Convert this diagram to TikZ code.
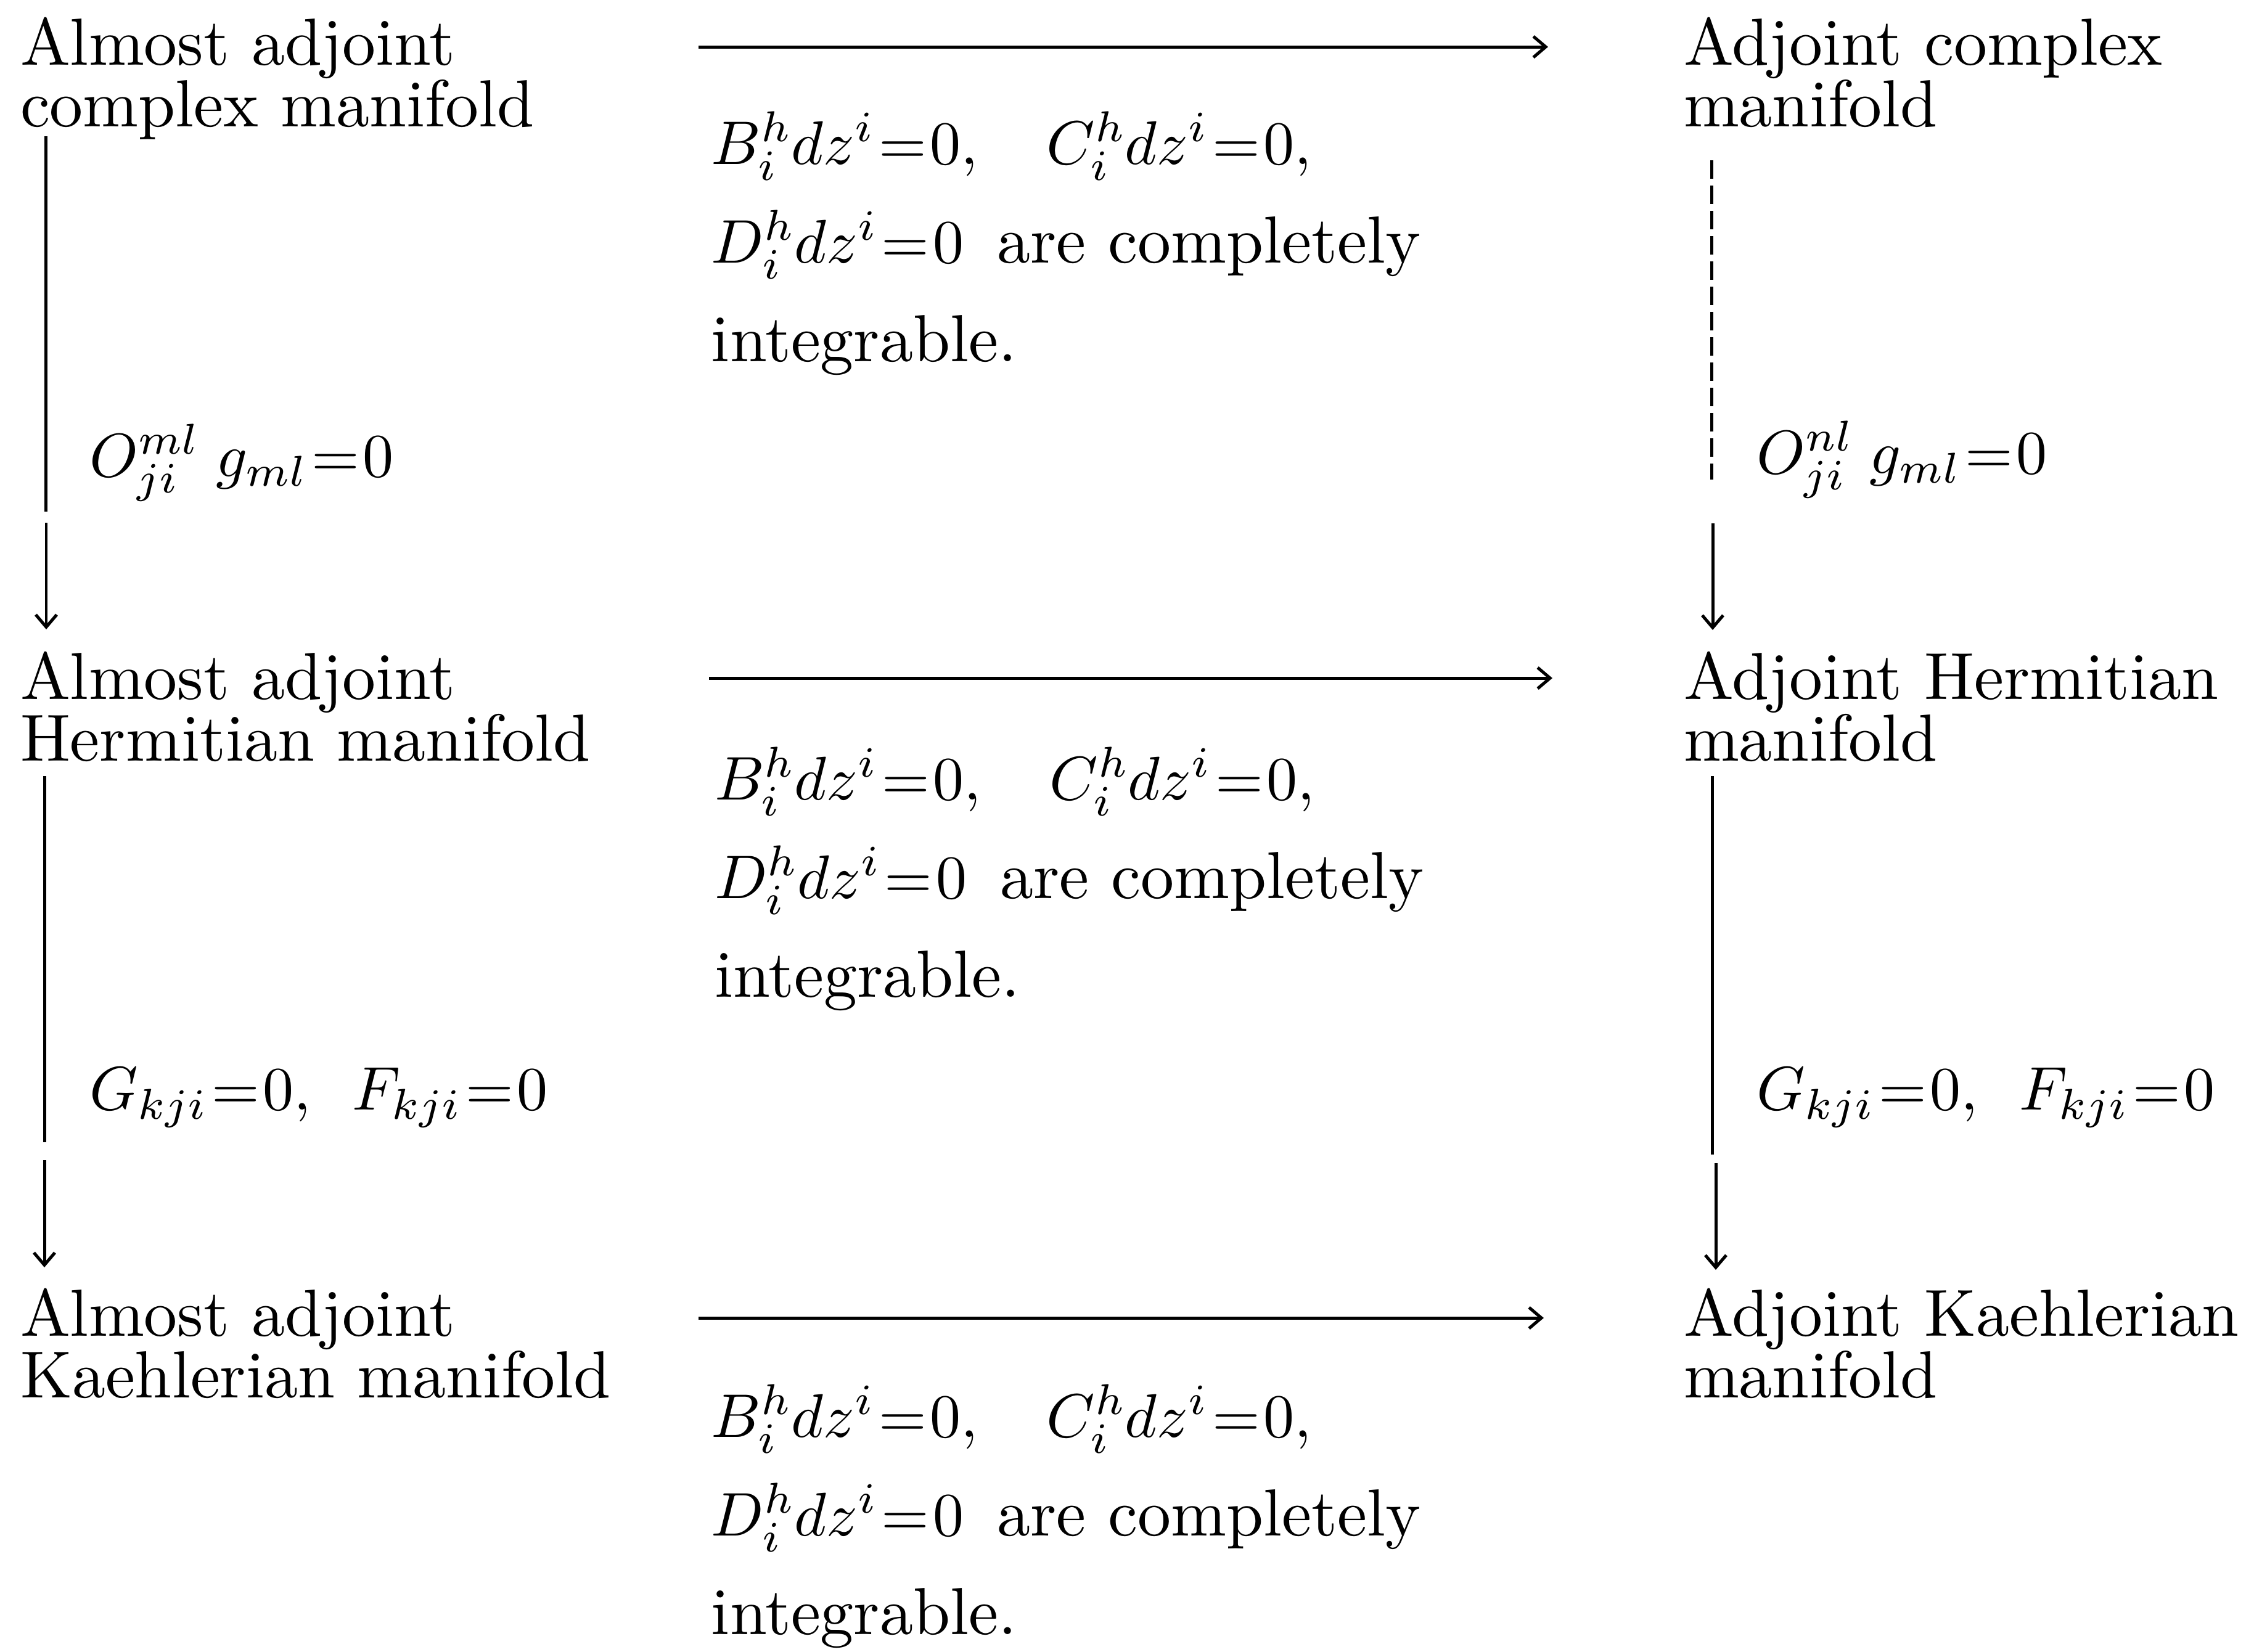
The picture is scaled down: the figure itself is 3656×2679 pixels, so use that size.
\documentclass[tikz,border=0pt]{standalone}
\usetikzlibrary{arrows.meta}
\newcommand{\twoln}[2]{\vtop{\baselineskip=10pt\lineskiplimit=-\maxdimen\hbox{#1}\hbox{#2}}}
\newcommand{\threeln}[3]{\vtop{\baselineskip=16pt\lineskiplimit=-\maxdimen\hbox{#1}\hbox{#2}\hbox{#3}}}
\newcommand{\eqz}{\mskip1.5mu{=}\mskip1mu 0}
\newcommand{\mth}[1]{{\fontsize{10}{10}\selectfont\scriptspace=0.2pt$#1$}}
\tikzset{
  lbl/.style={inner sep=0pt, outer sep=0pt, anchor=base west, font=\fontsize{10.8}{10}\selectfont},
  conn/.style={line width=0.5pt},
  faint/.style={conn, dash pattern=on 3pt off 1.1pt},
  arr/.style={conn, -{Straight Barb[length=2pt,width=3.4pt]}}
}
\begin{document}
\begin{tikzpicture}[x=0.1pt,y=-0.1pt]
\useasboundingbox (0,0) rectangle (3656,2679);

% manifold nodes
\node[lbl] (L1) at (33,105)  {\twoln{Almost adjoint}{complex manifold}};
\node[lbl] (L2) at (33,1134) {\twoln{Almost adjoint}{Hermitian manifold}};
\node[lbl] (L3) at (33,2167) {\twoln{Almost adjoint}{Kaehlerian manifold}};
\node[lbl] (R1) at (2731,105)  {\twoln{Adjoint complex}{manifold}};
\node[lbl] (R2) at (2731,1134) {\twoln{Adjoint Hermitian}{manifold}};
\node[lbl] (R3) at (2731,2167) {\twoln{Adjoint Kaehlerian}{manifold}};

% conditions on horizontal arrows
\node[lbl] (T1) at (1154,266)
  {\threeln{\mth{B^h_i dz^i\eqz,\enskip\,\; C^h_i dz^i\eqz,}}{\mth{D^h_i dz^i\eqz}\ \,are completely}{integrable.}};
\node[lbl] (T2) at (1159,1297)
  {\threeln{\mth{B^h_i dz^i\eqz,\enskip\,\; C^h_i dz^i\eqz,}}{\mth{D^h_i dz^i\eqz}\ \,are completely}{integrable.}};
\node[lbl] (T3) at (1154,2331)
  {\threeln{\mth{B^h_i dz^i\eqz,\enskip\,\; C^h_i dz^i\eqz,}}{\mth{D^h_i dz^i\eqz}\ \,are completely}{integrable.}};

% conditions on vertical arrows
\node[lbl] (A1) at (145,773)  {\mth{O^{ml}_{ji}\;g_{ml}\eqz}};
\node[lbl] (A2) at (145,1800) {\mth{G_{kji}\eqz,\ \,F_{kji}\eqz}};
\node[lbl] (B1) at (2849,768) {\mth{O^{nl}_{ji}\;g_{ml}\eqz}};
\node[lbl] (B2) at (2849,1800) {\mth{G_{kji}\eqz,\ \,F_{kji}\eqz}};

% arrow end points
\coordinate (h1s) at (1133,76);   \coordinate (h1e) at (2511,76);
\coordinate (h2s) at (1150,1100); \coordinate (h2e) at (2518,1100);
\coordinate (h3s) at (1133,2138); \coordinate (h3e) at (2504,2138);

\coordinate (lv1a) at (74,221);   \coordinate (lv1b) at (74,830);
\coordinate (lv1c) at (75,848);   \coordinate (lv1d) at (75,1021);
\coordinate (lv2a) at (72,1259);  \coordinate (lv2b) at (72,1853);
\coordinate (lv2c) at (72,1882);  \coordinate (lv2d) at (72,2056);
\coordinate (rv1a) at (2776,260); \coordinate (rv1b) at (2776,778);
\coordinate (rv1c) at (2778,849); \coordinate (rv1d) at (2778,1022);
\coordinate (rv2a) at (2777,1259); \coordinate (rv2b) at (2777,1873);
\coordinate (rv2c) at (2783,1887); \coordinate (rv2d) at (2783,2060);

% horizontal arrows
\draw[arr] (h1s) -- (h1e);
\draw[arr] (h2s) -- (h2e);
\draw[arr] (h3s) -- (h3e);

% vertical arrows
\draw[conn] (lv1a) -- (lv1b);
\draw[arr]  (lv1c) -- (lv1d);
\draw[conn] (lv2a) -- (lv2b);
\draw[arr]  (lv2c) -- (lv2d);
\draw[faint] (rv1a) -- (rv1b);
\draw[arr]  (rv1c) -- (rv1d);
\draw[conn] (rv2a) -- (rv2b);
\draw[arr]  (rv2c) -- (rv2d);
\end{tikzpicture}
\end{document}
